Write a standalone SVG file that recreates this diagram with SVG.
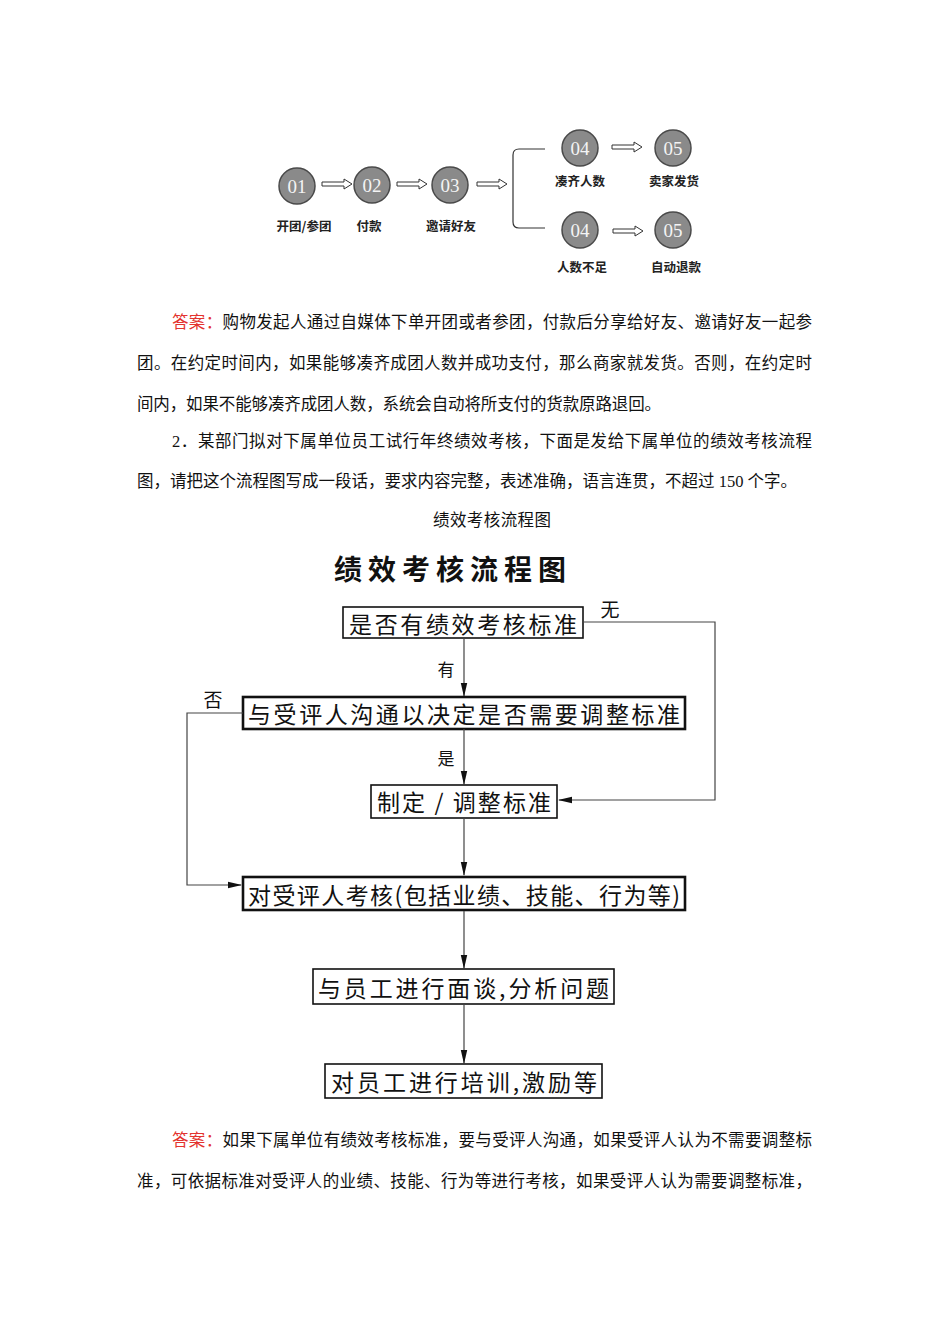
<svg xmlns="http://www.w3.org/2000/svg" width="950" height="1344" viewBox="0 0 950 1344">
<style>
.para{font-family:"Liberation Serif","Noto Sans CJK SC",serif;font-size:16.5px;fill:#111;dominant-baseline:central}
.red{fill:#e3342f}
.circ{fill:#8a8a8a;stroke:#4a4a4a;stroke-width:1.5}
.num{font-family:"Liberation Serif",serif;font-size:19px;fill:#f4f4f4;text-anchor:middle;dominant-baseline:central}
.lbl{font-family:"Noto Sans CJK SC",sans-serif;font-size:12.5px;font-weight:bold;fill:#222;text-anchor:middle;dominant-baseline:central}
.harrow{fill:#fff;stroke:#333;stroke-width:1}
.box{fill:#fff;stroke:#111;stroke-width:1.6}
.box2{fill:#fff;stroke:#111;stroke-width:2.6}
.bt{font-family:"Noto Sans CJK SC",sans-serif;font-size:23px;fill:#111;dominant-baseline:central}
.cl{font-family:"Noto Sans CJK SC",sans-serif;font-size:19px;fill:#111;text-anchor:middle;dominant-baseline:central}
.conn{fill:none;stroke:#444;stroke-width:1.2}
.title{font-family:"Noto Sans CJK SC",sans-serif;font-size:28px;font-weight:bold;fill:#111;dominant-baseline:central}
</style>
<defs>
<marker id="ah" markerWidth="14" markerHeight="8" refX="13" refY="4" orient="auto" markerUnits="userSpaceOnUse">
<path d="M0,0.8 L14,4 L0,7.2 z" fill="#111"/>
</marker>
</defs>
<rect width="950" height="1344" fill="#fff"/>

<!-- top diagram -->
<g id="top-diagram">
<g id="n01"><circle class="circ" cx="297" cy="186" r="18"/><text class="num" x="297" y="186">01</text><text class="lbl" x="304" y="225">开团/参团</text></g>
<g id="n02"><circle class="circ" cx="372" cy="185" r="18"/><text class="num" x="372" y="185">02</text><text class="lbl" x="369" y="225">付款</text></g>
<g id="n03"><circle class="circ" cx="450" cy="185" r="18"/><text class="num" x="450" y="185">03</text><text class="lbl" x="451" y="225">邀请好友</text></g>
<g id="n04a"><circle class="circ" cx="580" cy="148" r="18"/><text class="num" x="580" y="148">04</text><text class="lbl" x="580" y="180">凑齐人数</text></g>
<g id="n05a"><circle class="circ" cx="673" cy="148" r="18"/><text class="num" x="673" y="148">05</text><text class="lbl" x="674" y="180">卖家发货</text></g>
<g id="n04b"><circle class="circ" cx="580" cy="230" r="18"/><text class="num" x="580" y="230">04</text><text class="lbl" x="582" y="266">人数不足</text></g>
<g id="n05b"><circle class="circ" cx="673" cy="230" r="18"/><text class="num" x="673" y="230">05</text><text class="lbl" x="676" y="266">自动退款</text></g>
<g id="top-connectors">
<path class="harrow" d="M322,182 L344,182 L344,179 L352,184 L344,189 L344,186 L322,186 z"/>
<path class="harrow" d="M397,182 L419,182 L419,179 L427,184 L419,189 L419,186 L397,186 z"/>
<path class="harrow" d="M477,182 L499,182 L499,179 L507,184 L499,189 L499,186 L477,186 z"/>
<path class="harrow" d="M612,145 L634,145 L634,142 L642,147 L634,152 L634,149 L612,149 z"/>
<path class="harrow" d="M613,229 L635,229 L635,226 L643,231 L635,236 L635,233 L613,233 z"/>
<path d="M545,149 L519,149 Q513,149 513,155 L513,222 Q513,228 519,228 L545,228" fill="none" stroke="#333" stroke-width="1.2"/>
</g>
</g>

<!-- paragraph 1 -->
<text class="para" x="172" y="322" textLength="640" lengthAdjust="spacing"><tspan class="red">答案：</tspan>购物发起人通过自媒体下单开团或者参团，付款后分享给好友、邀请好友一起参</text>
<text class="para" x="137" y="363" textLength="675" lengthAdjust="spacing">团。在约定时间内，如果能够凑齐成团人数并成功支付，那么商家就发货。否则，在约定时</text>
<text class="para" x="137" y="404" textLength="524" lengthAdjust="spacing">间内，如果不能够凑齐成团人数，系统会自动将所支付的货款原路退回。</text>

<!-- paragraph 2 -->
<text class="para" x="172" y="441" textLength="640" lengthAdjust="spacing">2．某部门拟对下属单位员工试行年终绩效考核，下面是发给下属单位的绩效考核流程</text>
<text class="para" x="137" y="481" textLength="660" lengthAdjust="spacing">图，请把这个流程图写成一段话，要求内容完整，表述准确，语言连贯，不超过 150 个字。</text>
<text class="para" x="433" y="520" textLength="118" lengthAdjust="spacing">绩效考核流程图</text>

<!-- flowchart -->
<g id="flowchart">
<text class="title" x="334" y="568" textLength="232" lengthAdjust="spacing">绩效考核流程图</text>
<g id="b1"><rect class="box" x="343" y="607" width="240" height="31"/><text class="bt" x="349" y="623" textLength="228" lengthAdjust="spacing">是否有绩效考核标准</text></g>
<g id="b2"><rect class="box2" x="243" y="697" width="442" height="32"/><text class="bt" x="248" y="713" textLength="432" lengthAdjust="spacing">与受评人沟通以决定是否需要调整标准</text></g>
<g id="b3"><rect class="box" x="371" y="785" width="186" height="33"/><text class="bt" x="377" y="801" textLength="174" lengthAdjust="spacing">制定 / 调整标准</text></g>
<g id="b4"><rect class="box2" x="243" y="877" width="442" height="33"/><text class="bt" x="248" y="894" textLength="432" lengthAdjust="spacing">对受评人考核(包括业绩、技能、行为等)</text></g>
<g id="b5"><rect class="box" x="313" y="969" width="301" height="35"/><text class="bt" x="318" y="987" textLength="291" lengthAdjust="spacing">与员工进行面谈,分析问题</text></g>
<g id="b6"><rect class="box" x="325" y="1064" width="277" height="34"/><text class="bt" x="331" y="1081" textLength="266" lengthAdjust="spacing">对员工进行培训,激励等</text></g>
<g id="connectors">
<path class="conn" d="M583,622 L715,622 L715,800 L559,800" marker-end="url(#ah)"/>
<path class="conn" d="M464,638 L464,696" marker-end="url(#ah)"/>
<path class="conn" d="M243,713 L187,713 L187,885 L241,885" marker-end="url(#ah)"/>
<path class="conn" d="M464,729 L464,784" marker-end="url(#ah)"/>
<path class="conn" d="M464,818 L464,875" marker-end="url(#ah)"/>
<path class="conn" d="M464,911 L464,968" marker-end="url(#ah)"/>
<path class="conn" d="M464,1004 L464,1063" marker-end="url(#ah)"/>
<text class="cl" x="610" y="608">无</text>
<text class="cl" x="446" y="668" style="font-size:17px">有</text>
<text class="cl" x="213" y="698">否</text>
<text class="cl" x="446" y="757" style="font-size:17px">是</text>
</g>
</g>

<!-- paragraph 3 -->
<text class="para" x="172" y="1140" textLength="640" lengthAdjust="spacing"><tspan class="red">答案：</tspan>如果下属单位有绩效考核标准，要与受评人沟通，如果受评人认为不需要调整标</text>
<text class="para" x="137" y="1181" textLength="675" lengthAdjust="spacing">准，可依据标准对受评人的业绩、技能、行为等进行考核，如果受评人认为需要调整标准，</text>
</svg>
